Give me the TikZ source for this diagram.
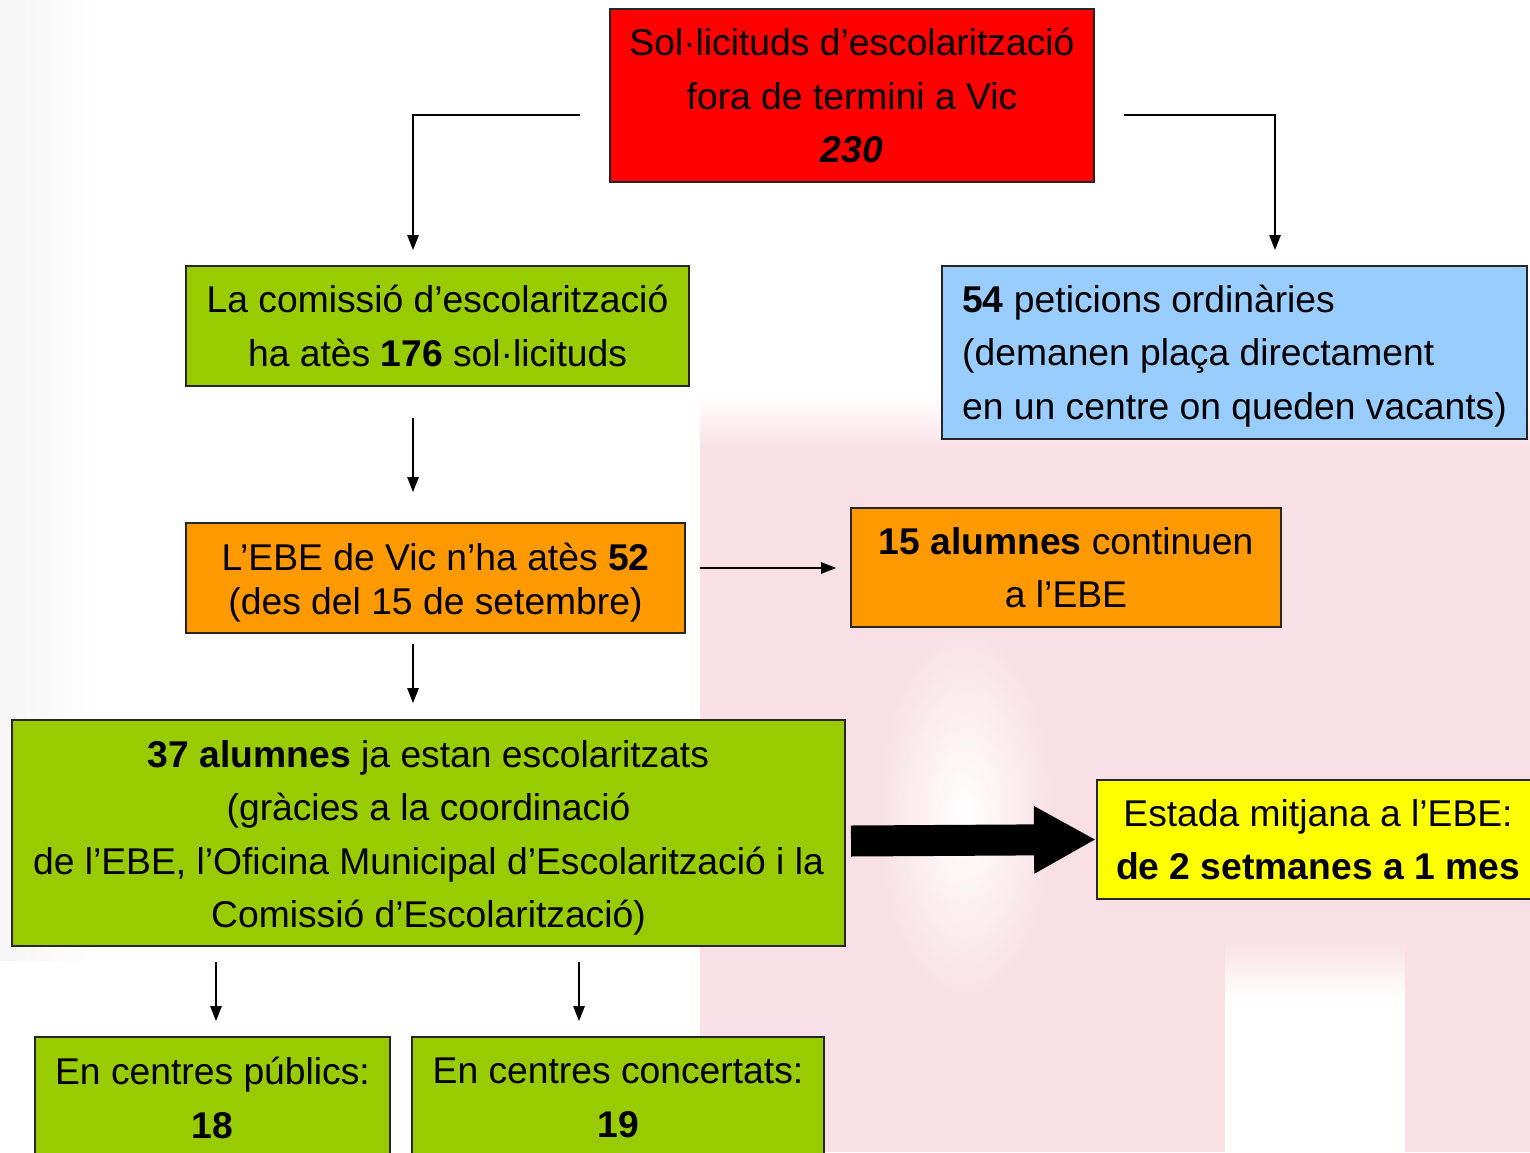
\documentclass[tikz,border=0pt]{standalone}
\usepackage{fontspec}
\setmainfont{Liberation Sans}
\usetikzlibrary{arrows.meta}

\definecolor{boxRed}{HTML}{FF0000}
\definecolor{boxGreen}{HTML}{99CC00}
\definecolor{boxBlue}{HTML}{99CCFF}
\definecolor{boxOrange}{HTML}{FF9900}
\definecolor{boxYellow}{HTML}{FFFF00}
\definecolor{bgPink}{RGB}{248,224,228}

\begin{document}
\begin{tikzpicture}[
    x=0.02cm, y=-0.02cm,
    % boxes of the scheme
    boxStyle/.style={
        draw=black!85, line width=1.1pt, align=center, inner sep=0pt,
        font=\fontsize{21.2}{30.5}\selectfont
    },
    boxSize/.style 2 args={minimum width=#1*0.02cm, minimum height=#2*0.02cm},
    % thin arrows
    arrowStyle/.style={line width=0.8pt, -{Triangle[length=3mm,width=2.3mm]}}
]
    \clip (0,0) rectangle (1530,1152);

    % faint watermark behind the scheme
    \shade[left color=black!4, right color=white] (0,0) rectangle (95,960);
    \shade[top color=white, bottom color=bgPink] (700,395) rectangle (1530,450);
    \fill[bgPink] (700,450) rectangle (1530,1152);
    \shade[inner color=white, outer color=bgPink] (965,815) ellipse [x radius=90, y radius=190];
    \shade[top color=bgPink, bottom color=white] (1225,940) rectangle (1405,1000);
    \fill[white] (1225,1000) rectangle (1405,1152);

    % Top box
    \node[boxStyle, boxSize={484}{173}, fill=boxRed] (sol) at (852,95.5)
        {Sol·licituds d’escolarització\\fora de termini a Vic\\\textbf{\textit{230}}};

    % Left branch
    \node[boxStyle, boxSize={503}{120}, fill=boxGreen] (com) at (437.5,326)
        {La comissió d’escolarització\\ha atès \textbf{176} sol·licituds};

    % Right branch
    \node[boxStyle, boxSize={585}{173}, fill=boxBlue, align=left] (pet) at (1234.5,352.5)
        {\rule{0pt}{19.7pt}\textbf{54} peticions ordinàries\\(demanen plaça directament\\en un centre on queden vacants)};

    % EBE boxes
    \node[boxStyle, boxSize={499}{110}, fill=boxOrange,
        font=\fontsize{21.2}{25.5}\selectfont] (ebe) at (435.5,578)
        {\rule{0pt}{20.9pt}L’EBE de Vic n’ha atès \textbf{52}\\(des del 15 de setembre)};
    \node[boxStyle, boxSize={430}{119}, fill=boxOrange] (cont) at (1066,567.5)
        {\textbf{15 alumnes} continuen\\a l’EBE};

    % Schooled pupils
    \node[boxStyle, boxSize={833}{226}, fill=boxGreen] (esc) at (428.5,833)
        {\rule{0pt}{20.9pt}\textbf{37 alumnes} ja estan escolaritzats\\(gràcies a la coordinació\\de l’EBE, l’Oficina Municipal d’Escolarització i la\\Comissió d’Escolarització)};

    % Average stay
    \node[boxStyle, boxSize={442}{119}, fill=boxYellow] (estada) at (1318,839.5)
        {Estada mitjana a l’EBE:\\\textbf{de 2 setmanes a 1 mes}};

    % Public and private centres
    \node[boxStyle, boxSize={355}{122}, fill=boxGreen] (pub) at (212.5,1098)
        {En centres públics:\\\textbf{18}};
    \node[boxStyle, boxSize={412}{122}, fill=boxGreen] (conc) at (618,1098)
        {En centres concertats:\\\textbf{19}};

    % Connector ends
    \coordinate (solL) at (580,115);
    \coordinate (comIn) at (413,250);
    \coordinate (solR) at (1124,115);
    \coordinate (petIn) at (1275,250);
    \coordinate (comOut) at (413,418);
    \coordinate (ebeIn) at (413,492);
    \coordinate (ebeOut) at (413,644);
    \coordinate (escIn) at (413,703);
    \coordinate (ebeR) at (700,568);
    \coordinate (contIn) at (836,568);
    \coordinate (fatStart) at (851,841);
    \coordinate (pubOut) at (216,962);
    \coordinate (pubIn) at (216,1021);
    \coordinate (concOut) at (579,962);
    \coordinate (concIn) at (579,1021);

    % Arrows
    \draw[arrowStyle] (solL) -| (comIn);
    \draw[arrowStyle] (solR) -| (petIn);
    \draw[arrowStyle] (comOut) -- (ebeIn);
    \draw[arrowStyle] (ebeOut) -- (escIn);
    \draw[arrowStyle] (ebeR) -- (contIn);
    \draw[arrowStyle] (pubOut) -- (pubIn);
    \draw[arrowStyle] (concOut) -- (concIn);

    % Fat arrow
    \draw[line width=0.62cm, -{Triangle[length=12.4mm,width=12.6mm]}] (fatStart) -- (estada.west);
\end{tikzpicture}
\end{document}
